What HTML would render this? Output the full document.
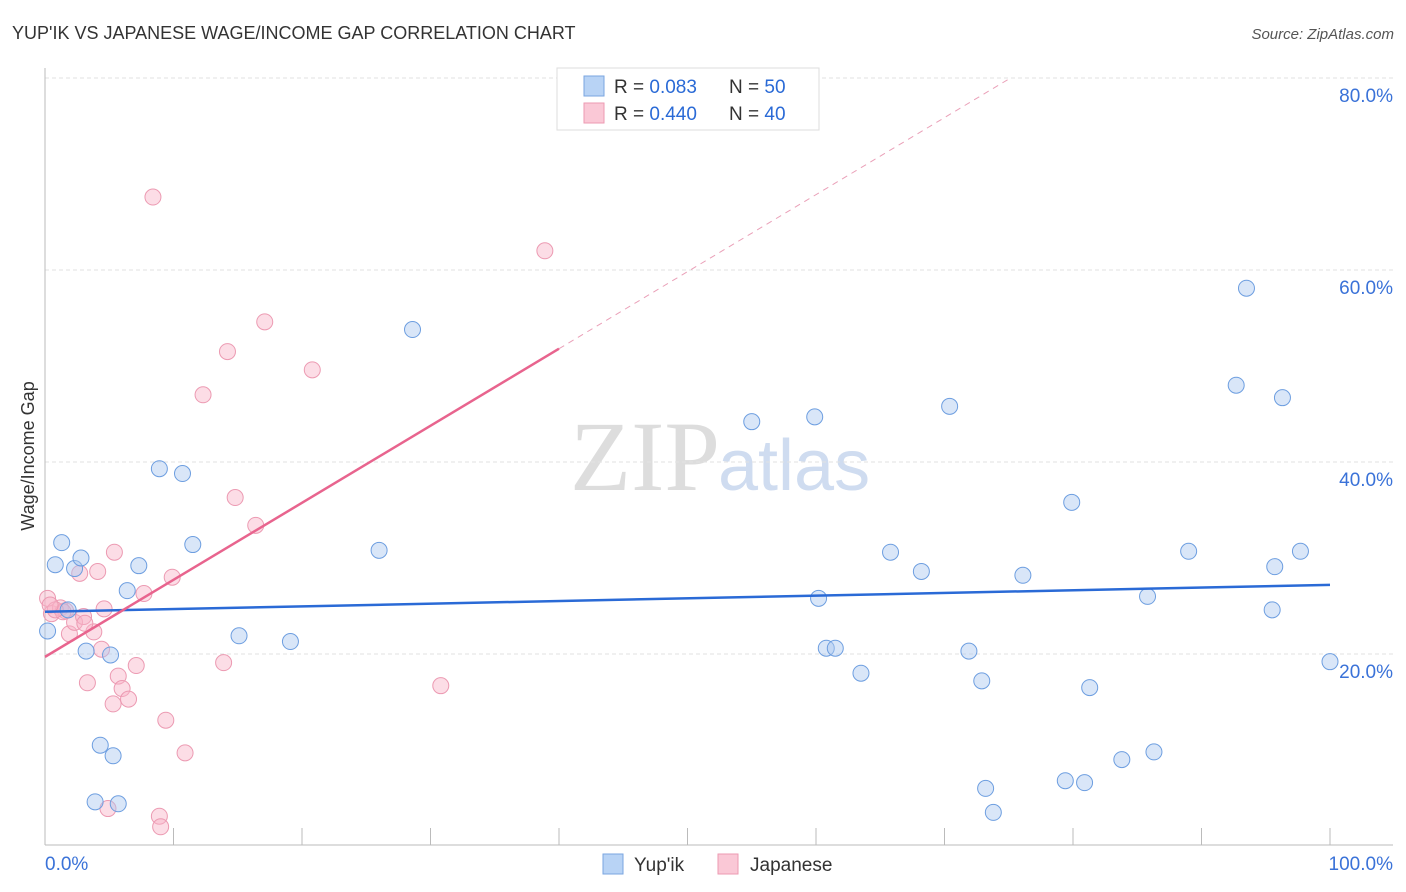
<!DOCTYPE html>
<html><head><meta charset="utf-8"><style>
body{margin:0;background:#fff;font-family:"Liberation Sans",sans-serif}
svg{display:block}
</style></head><body>
<svg id="c" width="1406" height="892">
<text x="12" y="39" font-size="18" fill="#333">YUP'IK VS JAPANESE WAGE/INCOME GAP CORRELATION CHART</text>
<text x="1394" y="39" font-size="15" fill="#555" font-style="italic" text-anchor="end">Source: ZipAtlas.com</text>
<text x="720" y="490" font-size="100" fill="#ddd" text-anchor="end" font-family="Liberation Serif">ZIP</text>
<text x="718" y="490" font-size="72" fill="#cfdcf0">atlas</text>
<text transform="translate(34,456) rotate(-90)" font-size="18" fill="#333" text-anchor="middle">Wage/Income Gap</text>
<g id="grid"></g><g id="pts"></g><g id="lines"></g>
<g>
<rect x="557" y="68" width="262" height="62" fill="#fff" stroke="#ddd"/>
<rect x="584" y="76" width="20" height="20" fill="#b8d3f5" stroke="#7aa6e0"/>
<rect x="584" y="103" width="20" height="20" fill="#fac8d6" stroke="#ec9ab2"/>
<text x="614" y="93" font-size="19" fill="#333">R = <tspan fill="#2a6ad6">0.083</tspan><tspan x="729">N = </tspan><tspan fill="#2a6ad6">50</tspan></text>
<text x="614" y="120" font-size="19" fill="#333">R = <tspan fill="#2a6ad6">0.440</tspan><tspan x="729">N = </tspan><tspan fill="#2a6ad6">40</tspan></text>
</g>
<g>
<rect x="603" y="854" width="20" height="20" fill="#b8d3f5" stroke="#7aa6e0"/>
<text x="634" y="871" font-size="19" fill="#333">Yup'ik</text>
<rect x="718" y="854" width="20" height="20" fill="#fac8d6" stroke="#ec9ab2"/>
<text x="750" y="871" font-size="19" fill="#333">Japanese</text>
</g>
</svg>
<script>
const yTicks=[20,40,60,80];
const xTickLabels=["0.0%","100.0%"];
const blueX=[0.2,0.8,1.3,1.8,2.3,2.8,3.2,3.9,4.3,5.1,5.3,5.7,6.4,7.3,8.9,10.7,11.5,15.1,19.1,26.0,28.6,55.0,59.9,60.2,60.8,61.5,63.5,65.8,68.2,70.4,71.9,72.9,73.2,73.8,76.1,79.4,79.9,80.9,81.3,83.8,85.8,86.3,89.0,92.7,93.5,95.5,95.7,96.3,97.7,100];
const blueY=[22.4,29.3,31.6,24.6,28.9,30.0,20.3,4.6,10.5,19.9,9.4,4.4,26.6,29.2,39.3,38.8,31.4,21.9,21.3,30.8,53.8,44.2,44.7,25.8,20.6,20.6,18.0,30.6,28.6,45.8,20.3,17.2,6.0,3.5,28.2,6.8,35.8,6.6,16.5,9.0,26.0,9.8,30.7,48.0,58.1,24.6,29.1,46.7,30.7,19.2];
const pinkX=[0.2,0.5,1.2,1.6,1.9,2.3,2.7,3.0,3.3,3.8,4.1,4.4,4.6,4.9,5.3,5.4,5.7,6.0,6.5,7.1,7.7,8.4,8.9,9.0,9.4,9.9,10.9,12.3,13.9,14.2,14.8,16.4,17.1,20.8,30.8,38.9,3.1,1.4,0.8,0.4];
const pinkY=[25.8,24.2,24.8,24.5,22.1,23.3,28.4,23.9,17.0,22.3,28.6,20.5,24.7,3.9,14.8,30.6,17.7,16.4,15.3,18.8,26.3,67.6,3.1,2.0,13.1,28.0,9.7,47.0,19.1,51.5,36.3,33.4,54.6,49.6,16.7,62.0,23.2,24.4,24.6,25.1];
const blueTrend=[24.4,27.2];
const pinkTrend=[19.7,51.8];
const X=v=>45+v*12.85, Y=v=>846-v*9.6;
const NS="http://www.w3.org/2000/svg";
function mk(t,a,p){const e=document.createElementNS(NS,t);for(const k in a)e.setAttribute(k,a[k]);document.getElementById(p).appendChild(e);return e;}
yTicks.forEach(t=>{
 const l=mk('line',{x1:45,x2:1393,y1:Y(t),y2:Y(t),stroke:'#e2e2e2','stroke-dasharray':'4,3'},'grid');
 
 
 const tx=mk('text',{x:1393,y:Y(t)+24,'font-size':19,fill:'#3a72d8','text-anchor':'end'},'grid');tx.textContent=t.toFixed(1)+'%';
 
 
});
const ax=mk('line',{x1:45,x2:1393,y1:845,y2:845,stroke:'#bbb'},'grid');


const ay=mk('line',{x1:45,x2:45,y1:68,y2:845,stroke:'#bbb'},'grid');


for(let i=1;i<=10;i++){const t=mk('line',{x1:X(i*10),x2:X(i*10),y1:828,y2:845,stroke:'#bbb'},'grid');
 
 }
[[0,'start',45],[100,'end',1393]].forEach((d,i)=>{const t=mk('text',{x:d[2],y:870,'font-size':19,fill:'#3a72d8','text-anchor':d[1]},'grid');t.textContent=xTickLabels[i];
 
 });
pinkX.forEach((x,i)=>{const c=mk('circle',{cx:X(x),cy:Y(pinkY[i]),r:8,fill:'rgba(248,180,200,0.45)',stroke:'#ec9ab2','stroke-width':1},'pts');
 
 });
blueX.forEach((x,i)=>{const c=mk('circle',{cx:X(x),cy:Y(blueY[i]),r:8,fill:'rgba(170,200,240,0.45)',stroke:'#6d9ee0','stroke-width':1},'pts');
 
 });
const bl=mk('line',{x1:X(0),x2:X(100),y1:Y(blueTrend[0]),y2:Y(blueTrend[1]),stroke:'#2a6ad6','stroke-width':2.5},'lines');


const slope=(pinkTrend[1]-pinkTrend[0])/40;
const pl=mk('line',{x1:X(0),x2:X(40),y1:Y(pinkTrend[0]),y2:Y(pinkTrend[1]),stroke:'#e8648e','stroke-width':2.5},'lines');


const xe=(80-pinkTrend[0])/slope;
const pd=mk('line',{x1:X(40),x2:X(xe),y1:Y(pinkTrend[1]),y2:Y(80),stroke:'#eaa0b8','stroke-width':1,'stroke-dasharray':'6,5'},'lines');


</script>
</body></html>
